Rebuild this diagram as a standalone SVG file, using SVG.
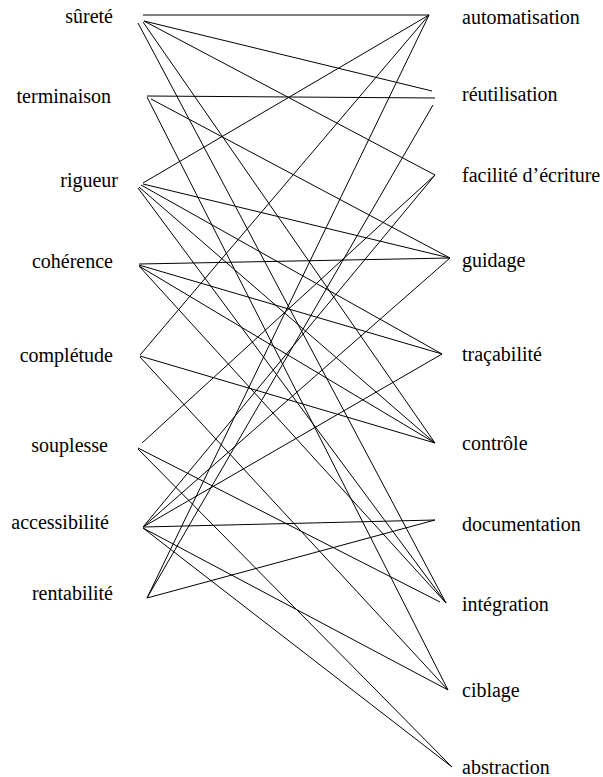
<svg xmlns="http://www.w3.org/2000/svg" width="603" height="777" viewBox="0 0 603 777">
  <style>
    text { font-family: "Liberation Serif", "Times New Roman", serif; font-size: 20px; fill: #000; }
    .l { text-anchor: end; }
    .r { text-anchor: start; }
    #links line { stroke: #000; stroke-width: 1; fill: none; }
  </style>
  <rect width="603" height="777" fill="#fff"/>

  <!-- quality criteria (left column) -->
  <g id="surete"><text class="l" x="113" y="23">sûreté</text></g>
  <g id="terminaison"><text class="l" x="111" y="103">terminaison</text></g>
  <g id="rigueur"><text class="l" x="118" y="187">rigueur</text></g>
  <g id="coherence"><text class="l" x="113" y="268">cohérence</text></g>
  <g id="completude"><text class="l" x="113" y="362">complétude</text></g>
  <g id="souplesse"><text class="l" x="108" y="452">souplesse</text></g>
  <g id="accessibilite"><text class="l" x="109" y="529">accessibilité</text></g>
  <g id="rentabilite"><text class="l" x="113" y="600">rentabilité</text></g>

  <!-- features (right column) -->
  <g id="automatisation"><text class="r" x="462" y="24">automatisation</text></g>
  <g id="reutilisation"><text class="r" x="462" y="101">réutilisation</text></g>
  <g id="facilite"><text class="r" x="462" y="182">facilité d’écriture</text></g>
  <g id="guidage"><text class="r" x="462" y="267">guidage</text></g>
  <g id="tracabilite"><text class="r" x="462" y="361">traçabilité</text></g>
  <g id="controle"><text class="r" x="462" y="450">contrôle</text></g>
  <g id="documentation"><text class="r" x="462" y="531">documentation</text></g>
  <g id="integration"><text class="r" x="462" y="611">intégration</text></g>
  <g id="ciblage"><text class="r" x="462" y="697">ciblage</text></g>
  <g id="abstraction"><text class="r" x="462" y="774">abstraction</text></g>

  <!-- links between criteria and features -->
  <g id="links">
    <!-- sûreté -->
    <line x1="143" y1="15" x2="429" y2="15"/>
    <line x1="144" y1="21" x2="432" y2="91"/>
    <line x1="144" y1="21" x2="435" y2="175"/>
    <line x1="143" y1="22" x2="435" y2="443"/>
    <line x1="138" y1="23" x2="446" y2="603"/>
    <!-- terminaison -->
    <line x1="147" y1="96" x2="435" y2="98"/>
    <line x1="151" y1="99" x2="450" y2="258"/>
    <line x1="147" y1="97" x2="448" y2="690"/>
    <!-- rigueur -->
    <line x1="143" y1="183" x2="429" y2="15"/>
    <line x1="143" y1="184" x2="450" y2="258"/>
    <line x1="141" y1="185" x2="442" y2="354"/>
    <line x1="139" y1="187" x2="435" y2="443"/>
    <line x1="138" y1="188" x2="446" y2="603"/>
    <!-- cohérence -->
    <line x1="139" y1="264" x2="450" y2="258"/>
    <line x1="139" y1="265" x2="442" y2="354"/>
    <line x1="139" y1="266" x2="435" y2="443"/>
    <line x1="139" y1="266" x2="446" y2="603"/>
    <!-- complétude -->
    <line x1="140" y1="355" x2="429" y2="15"/>
    <line x1="140" y1="356" x2="435" y2="443"/>
    <line x1="140" y1="357" x2="448" y2="690"/>
    <!-- souplesse -->
    <line x1="142" y1="443" x2="435" y2="175"/>
    <line x1="138" y1="448" x2="440" y2="602"/>
    <line x1="138" y1="449" x2="452" y2="767"/>
    <!-- accessibilité -->
    <line x1="143" y1="527" x2="435" y2="175"/>
    <line x1="143" y1="527" x2="450" y2="258"/>
    <line x1="143" y1="527" x2="442" y2="354"/>
    <line x1="143" y1="527" x2="435" y2="520"/>
    <line x1="143" y1="528" x2="448" y2="690"/>
    <line x1="143" y1="528" x2="452" y2="767"/>
    <!-- rentabilité -->
    <line x1="147" y1="598" x2="429" y2="15"/>
    <line x1="147" y1="598" x2="433" y2="105"/>
    <line x1="147" y1="598" x2="435" y2="520"/>
  </g>
</svg>
